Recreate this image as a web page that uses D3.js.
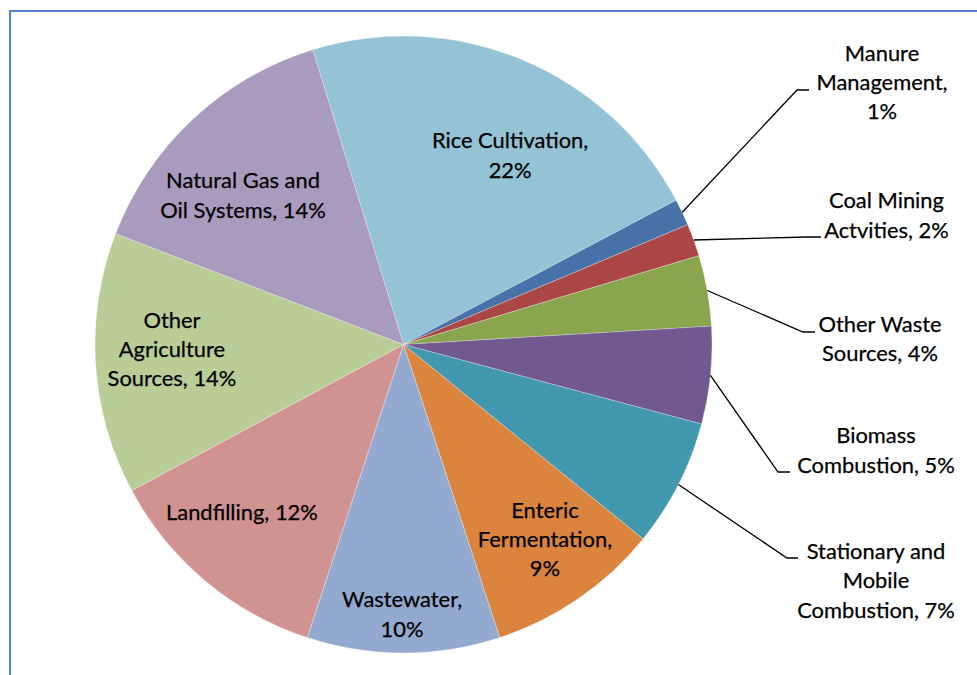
<!DOCTYPE html>
<html>
<head>
<meta charset="utf-8">
<script src="https://cdn.jsdelivr.net/npm/d3@7"></script>
<style>
  html, body { margin: 0; padding: 0; background: #ffffff; }
  svg { display: block; }
</style>
</head>
<body>
<svg id="chart" width="977" height="675"></svg>
<script>
// ---------- DATA ----------
const categories = [
  "Rice Cultivation", "Manure Management", "Coal Mining Actvities",
  "Other Waste Sources", "Biomass Combustion", "Stationary and Mobile Combustion",
  "Enteric Fermentation", "Wastewater", "Landfilling",
  "Other Agriculture Sources", "Natural Gas and Oil Systems"
];
const values = [22.0, 1.4, 1.7, 3.7, 5.1, 6.7, 9.1, 10.1, 12.1, 13.7, 14.4];
const labelLines = [
  ["Rice Cultivation,", "22%"],
  ["Manure", "Management,", "1%"],
  ["Coal Mining", "Actvities, 2%"],
  ["Other Waste", "Sources, 4%"],
  ["Biomass", "Combustion, 5%"],
  ["Stationary and", "Mobile", "Combustion, 7%"],
  ["Enteric", "Fermentation,", "9%"],
  ["Wastewater,", "10%"],
  ["Landfilling, 12%"],
  ["Other", "Agriculture", "Sources, 14%"],
  ["Natural Gas and", "Oil Systems, 14%"]
];
const colors = [
  "#93c3d4", "#4672a8", "#aa4644", "#89a54e", "#71588f", "#4198af",
  "#db843d", "#93a9cf", "#d19392", "#b9cd96", "#a99bbd"
];

// ---------- LAYOUT ----------
const cx = 403.5, cy = 344.5, R = 308.5;
const startDeg = -17.1;
const lineH = 29.3;
const textDy = -1.5;
// inside labels: [angle deg, radius px] of the block centre (null = outside label)
const insidePos = [
  [29.5, 216.5], null, null, null, null, null,
  [144.1, 241.3], [180.3, 270.5], [223.8, 233.4], [268.6, 231.6], [312.8, 218.7]
];
// outside labels: [text centre x, block centre y, elbow x, elbow y, end x]
const outsidePos = [
  null,
  [882, 83, 797, 90, 809],
  [886.5, 216, 808, 237, 821],
  [880, 339.5, 803, 332, 815],
  [876, 451, 778, 472, 790],
  [876, 581.3, 787, 558, 798],
  null, null, null, null, null
];

const svg = d3.select("#chart");
const FONT = "Lato, 'Open Sans', sans-serif";

// fit font size so text widths match the reference (Calibri-like metrics)
const probe = svg.append("text").attr("font-family", FONT).attr("font-size", 100).text("Combustion, 7%");
const w100 = probe.node().getComputedTextLength();
probe.remove();
const fontSize = Math.round(158 / w100 * 100 * 10) / 10;

// frame
svg.append("path")
  .attr("d", "M10,675 L10,11 L977,11")
  .attr("fill", "none")
  .attr("stroke", "#4f86c6")
  .attr("stroke-width", 2);

const rad = d => d * Math.PI / 180;
const pie = d3.pie().sort(null).value(d => d)
  .startAngle(rad(startDeg)).endAngle(rad(startDeg + 360));
const arcs = pie(values);
const arc = d3.arc().innerRadius(0).outerRadius(R);

const g = svg.append("g").attr("transform", `translate(${cx},${cy})`);
g.selectAll("path.slice")
  .data(arcs)
  .join("path")
  .attr("class", "slice")
  .attr("d", arc)
  .attr("fill", (d, i) => colors[i])
  .attr("stroke", "#ffffff")
  .attr("stroke-opacity", 0.35)
  .attr("stroke-width", 0.8);

function addLabel(x, y, lines) {
  const t = svg.append("text")
    .attr("font-family", FONT).attr("font-size", fontSize)
    .attr("fill", "#000").attr("stroke", "#000").attr("stroke-width", 0.25)
    .attr("text-anchor", "middle");
  lines.forEach((s, k) => {
    t.append("tspan").attr("x", x)
      .attr("y", y + textDy + (k - (lines.length - 1) / 2) * lineH)
      .attr("dominant-baseline", "central")
      .text(s);
  });
}

// inside labels
arcs.forEach((a, i) => {
  const p = insidePos[i];
  if (!p) return;
  const x = cx + p[1] * Math.sin(rad(p[0]));
  const y = cy - p[1] * Math.cos(rad(p[0]));
  addLabel(x, y, labelLines[i]);
});

// outside labels with leader lines
arcs.forEach((a, i) => {
  const p = outsidePos[i];
  if (!p) return;
  const mid = (a.startAngle + a.endAngle) / 2;
  const sx = cx + R * Math.sin(mid), sy = cy - R * Math.cos(mid);
  svg.append("path")
    .attr("d", `M${sx},${sy} L${p[2]},${p[3]} L${p[4]},${p[3]}`)
    .attr("fill", "none").attr("stroke", "#000").attr("stroke-width", 1.3);
  addLabel(p[0], p[1], labelLines[i]);
});
</script>
</body>
</html>
